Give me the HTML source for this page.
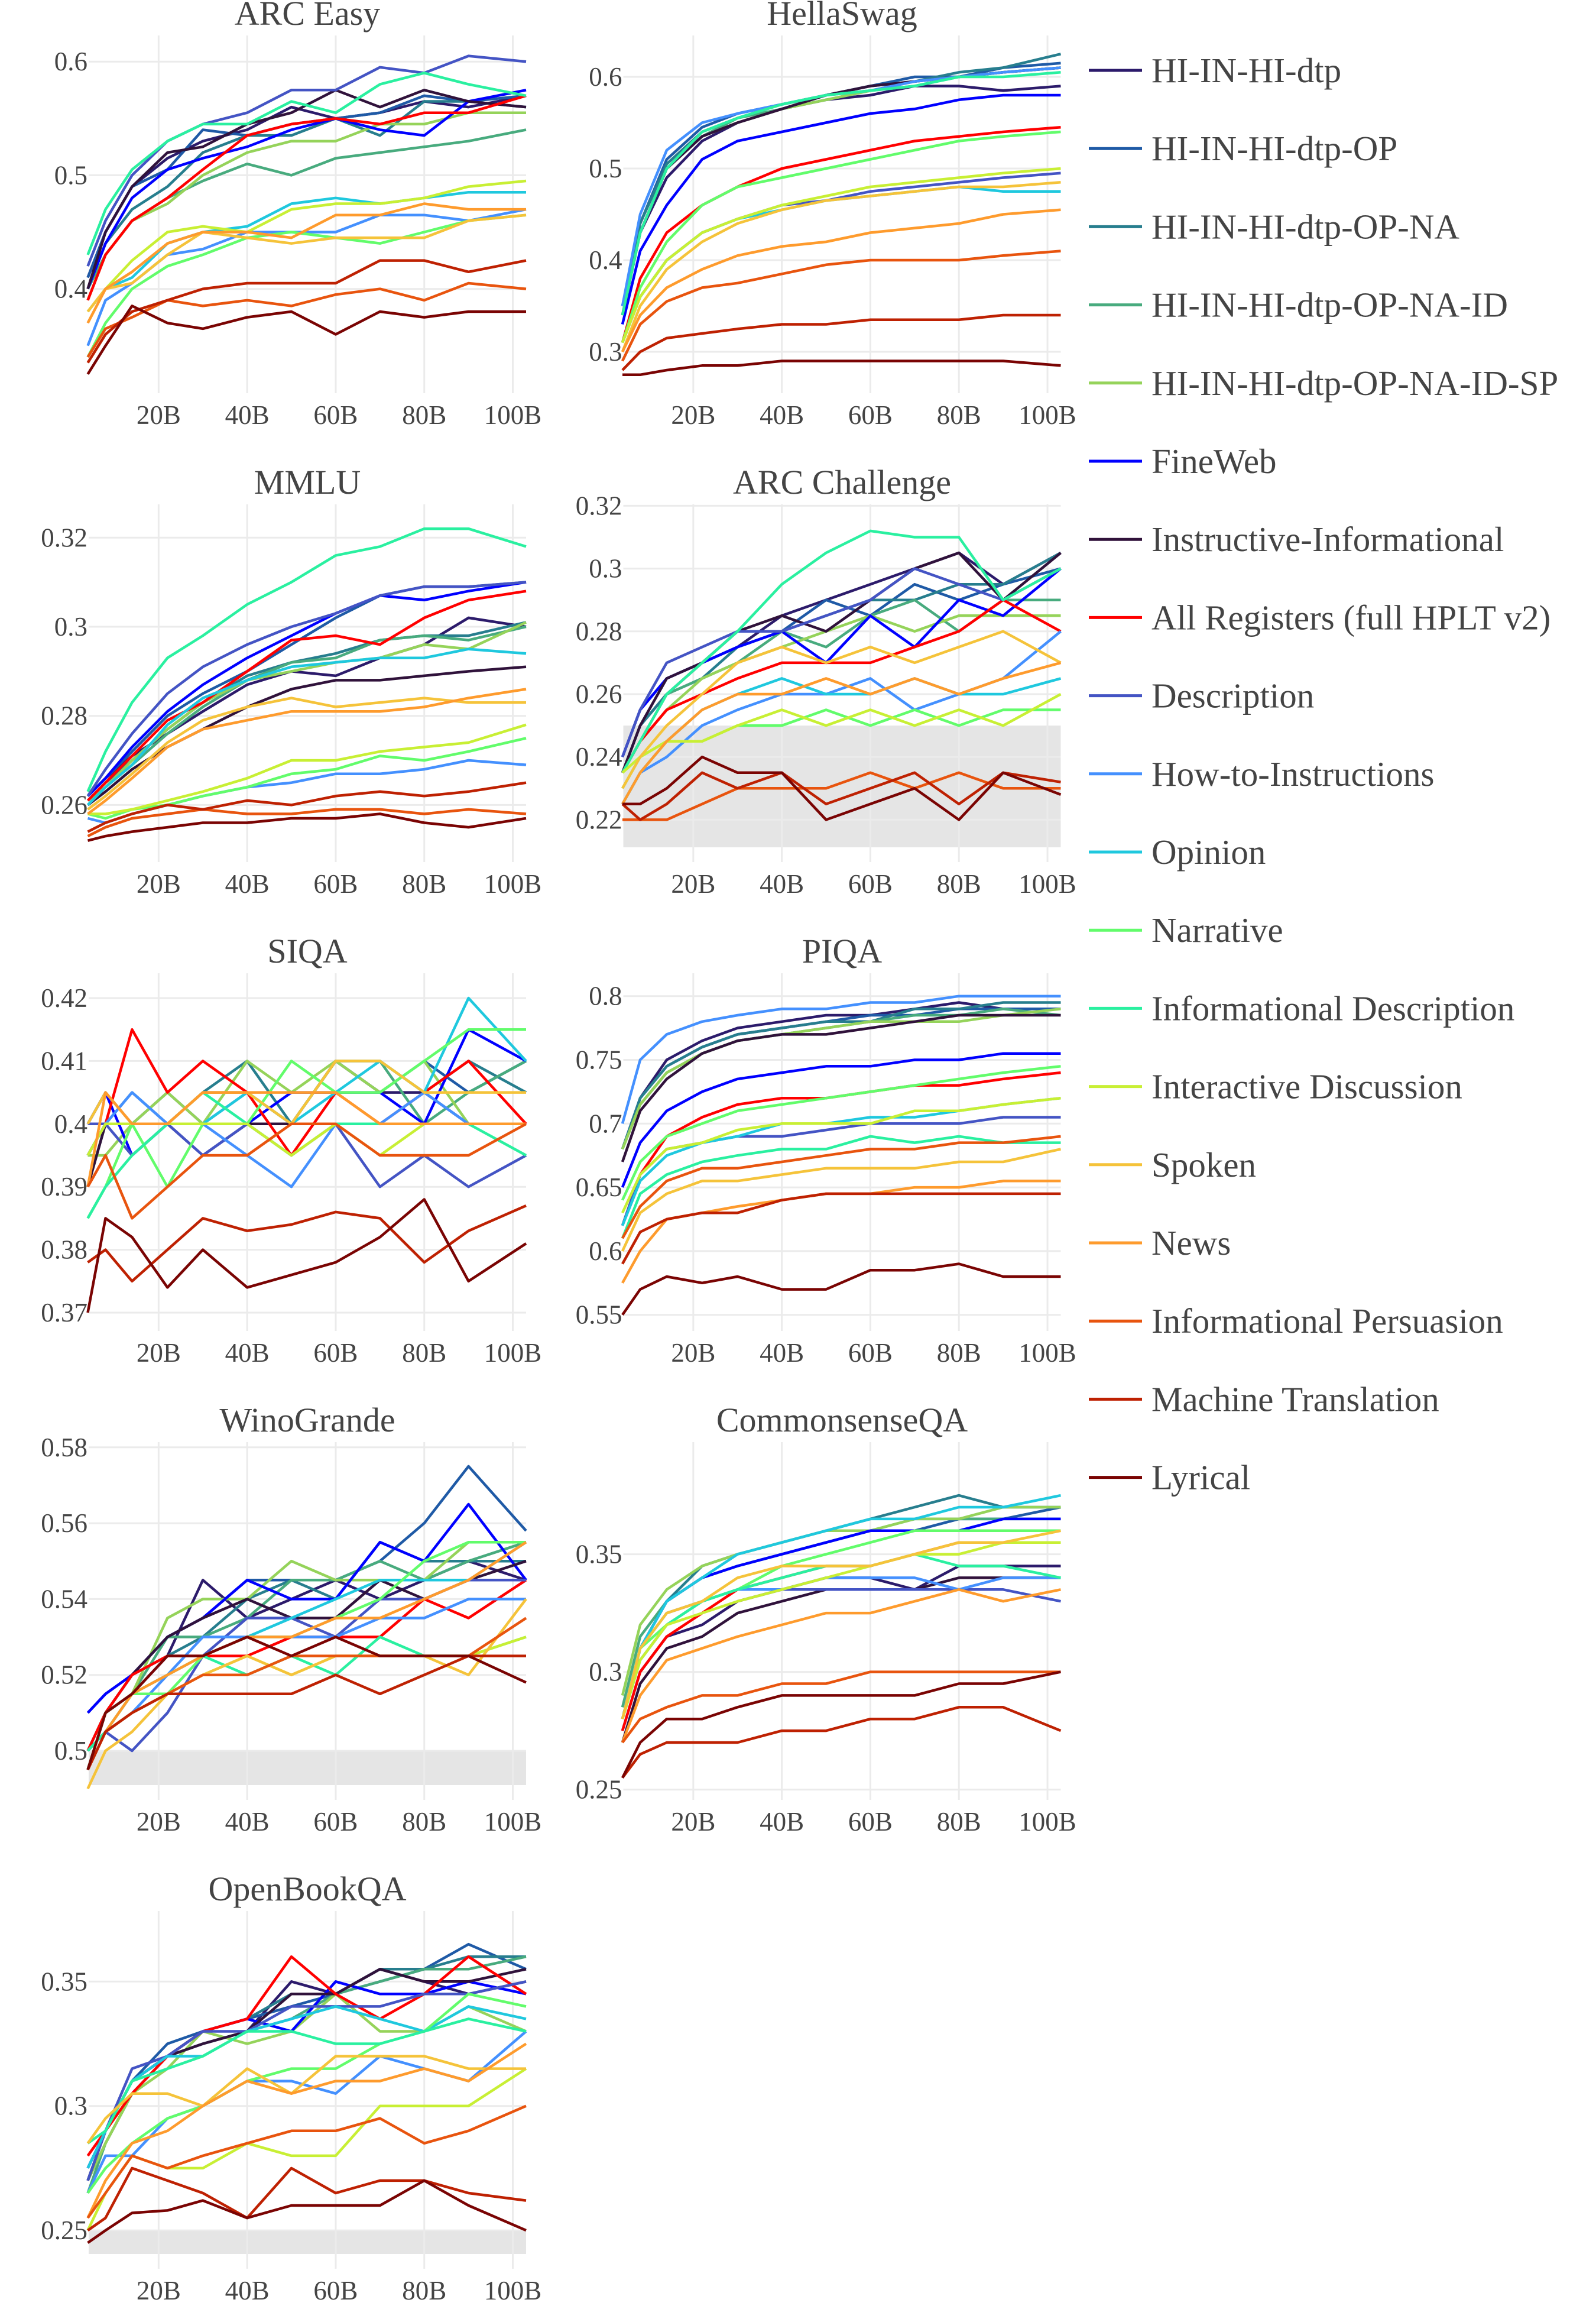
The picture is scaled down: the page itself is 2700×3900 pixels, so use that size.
<!DOCTYPE html>
<html><head><meta charset="utf-8"><style>
html,body{margin:0;padding:0;background:#fff;}
svg{display:block;font-family:"Liberation Serif",serif;}
</style></head><body>
<svg id="chart" width="2700" height="3900" viewBox="0 0 2700 3900" xmlns="http://www.w3.org/2000/svg"></svg>
<script>
const xTokens=[4,8,14,22,30,40,50,60,70,80,90,103];
const xTickLabels=["20B","40B","60B","80B","100B"];
const xTickValues=[20,40,60,80,100];
const seriesNames=["HI-IN-HI-dtp","HI-IN-HI-dtp-OP","HI-IN-HI-dtp-OP-NA","HI-IN-HI-dtp-OP-NA-ID","HI-IN-HI-dtp-OP-NA-ID-SP","FineWeb","Instructive-Informational","All Registers (full HPLT v2)","Description","How-to-Instructions","Opinion","Narrative","Informational Description","Interactive Discussion","Spoken","News","Informational Persuasion","Machine Translation","Lyrical"];
const seriesColors=["#2c1b6b","#1f5aa6","#277e8e","#48ab7e","#95d35a","#0000ff","#30123b","#ff0000","#4454c4","#4490fe","#1fc8de","#62fc6b","#2af0a0","#c8ef34","#f5c33a","#fe9b2d","#e8540e","#be2102","#7a0403"];
const panelTitles=["ARC Easy","HellaSwag","MMLU","ARC Challenge","SIQA","PIQA","WinoGrande","CommonsenseQA","OpenBookQA"];
const yTicksArcEasy=[0.4,0.5,0.6];
const yTicksHella=[0.3,0.4,0.5,0.6];
const yTicksMmlu=[0.26,0.28,0.3,0.32];
const yTicksArcC=[0.22,0.24,0.26,0.28,0.3,0.32];
const yTicksSiqa=[0.37,0.38,0.39,0.4,0.41,0.42];
const yTicksPiqa=[0.55,0.6,0.65,0.7,0.75,0.8];
const yTicksWino=[0.5,0.52,0.54,0.56,0.58];
const yTicksCsqa=[0.25,0.3,0.35];
const yTicksObqa=[0.25,0.3,0.35];
const bandArcC=0.25, bandWino=0.5, bandObqa=0.25;

const arcEasy=[
[0.41,0.45,0.49,0.515,0.53,0.54,0.56,0.55,0.555,0.565,0.56,0.57],
[0.41,0.45,0.49,0.505,0.54,0.535,0.545,0.55,0.555,0.57,0.565,0.57],
[0.40,0.44,0.47,0.49,0.52,0.535,0.535,0.55,0.535,0.565,0.565,0.56],
[0.40,0.43,0.46,0.48,0.495,0.51,0.50,0.515,0.52,0.525,0.53,0.54],
[0.39,0.43,0.46,0.475,0.50,0.52,0.53,0.53,0.545,0.545,0.555,0.555],
[0.40,0.44,0.48,0.505,0.515,0.525,0.54,0.55,0.54,0.535,0.565,0.575],
[0.40,0.45,0.49,0.52,0.525,0.545,0.555,0.575,0.56,0.575,0.565,0.56],
[0.39,0.43,0.46,0.48,0.505,0.535,0.545,0.55,0.545,0.555,0.555,0.57],
[0.42,0.46,0.50,0.53,0.545,0.555,0.575,0.575,0.595,0.59,0.605,0.60],
[0.35,0.39,0.405,0.43,0.435,0.45,0.45,0.45,0.465,0.465,0.46,0.47],
[0.38,0.40,0.41,0.44,0.45,0.455,0.475,0.48,0.475,0.48,0.485,0.485],
[0.34,0.37,0.40,0.42,0.43,0.445,0.45,0.445,0.44,0.45,0.46,0.465],
[0.43,0.47,0.505,0.53,0.545,0.545,0.565,0.555,0.58,0.59,0.58,0.57],
[0.38,0.40,0.425,0.45,0.455,0.45,0.47,0.475,0.475,0.48,0.49,0.495],
[0.38,0.40,0.405,0.43,0.45,0.445,0.44,0.445,0.445,0.445,0.46,0.465],
[0.37,0.40,0.415,0.44,0.45,0.45,0.445,0.465,0.465,0.475,0.47,0.47],
[0.34,0.365,0.375,0.39,0.385,0.39,0.385,0.395,0.40,0.39,0.405,0.40],
[0.335,0.36,0.38,0.39,0.40,0.405,0.405,0.405,0.425,0.425,0.415,0.425],
[0.325,0.35,0.385,0.37,0.365,0.375,0.38,0.36,0.38,0.375,0.38,0.38]];
const hellaSwag=[
[0.34,0.43,0.49,0.53,0.55,0.565,0.575,0.58,0.59,0.59,0.585,0.59],
[0.35,0.44,0.51,0.545,0.56,0.57,0.58,0.59,0.60,0.60,0.61,0.615],
[0.35,0.44,0.505,0.54,0.555,0.57,0.58,0.59,0.595,0.605,0.61,0.625],
[0.34,0.43,0.50,0.535,0.555,0.565,0.575,0.585,0.59,0.60,0.605,0.61],
[0.34,0.43,0.50,0.535,0.55,0.565,0.575,0.585,0.595,0.60,0.605,0.61],
[0.33,0.41,0.46,0.51,0.53,0.54,0.55,0.56,0.565,0.575,0.58,0.58],
[0.34,0.43,0.50,0.535,0.55,0.565,0.58,0.59,0.595,0.60,0.605,0.61],
[0.31,0.38,0.43,0.46,0.48,0.50,0.51,0.52,0.53,0.535,0.54,0.545],
[0.31,0.36,0.40,0.43,0.445,0.46,0.465,0.475,0.48,0.485,0.49,0.495],
[0.35,0.45,0.52,0.55,0.56,0.57,0.58,0.585,0.595,0.60,0.605,0.61],
[0.31,0.36,0.40,0.43,0.445,0.455,0.465,0.47,0.475,0.48,0.475,0.475],
[0.31,0.37,0.42,0.46,0.48,0.49,0.50,0.51,0.52,0.53,0.535,0.54],
[0.34,0.43,0.50,0.54,0.555,0.57,0.58,0.585,0.59,0.60,0.60,0.605],
[0.31,0.36,0.40,0.43,0.445,0.46,0.47,0.48,0.485,0.49,0.495,0.50],
[0.30,0.35,0.39,0.42,0.44,0.455,0.465,0.47,0.475,0.48,0.48,0.485],
[0.30,0.34,0.37,0.39,0.405,0.415,0.42,0.43,0.435,0.44,0.45,0.455],
[0.29,0.33,0.355,0.37,0.375,0.385,0.395,0.40,0.40,0.40,0.405,0.41],
[0.28,0.30,0.315,0.32,0.325,0.33,0.33,0.335,0.335,0.335,0.34,0.34],
[0.275,0.275,0.28,0.285,0.285,0.29,0.29,0.29,0.29,0.29,0.29,0.285]];
const mmlu=[
[0.262,0.266,0.271,0.276,0.281,0.287,0.29,0.289,0.293,0.296,0.302,0.30],
[0.262,0.266,0.272,0.28,0.285,0.29,0.296,0.302,0.307,0.309,0.309,0.31],
[0.261,0.265,0.27,0.277,0.283,0.289,0.292,0.294,0.297,0.298,0.298,0.301],
[0.261,0.264,0.269,0.276,0.282,0.288,0.292,0.293,0.297,0.298,0.297,0.30],
[0.261,0.264,0.27,0.277,0.283,0.288,0.29,0.292,0.293,0.296,0.295,0.301],
[0.262,0.266,0.273,0.281,0.287,0.293,0.298,0.303,0.307,0.306,0.308,0.31],
[0.26,0.263,0.268,0.273,0.277,0.282,0.286,0.288,0.288,0.289,0.29,0.291],
[0.261,0.265,0.271,0.279,0.283,0.29,0.297,0.298,0.296,0.302,0.306,0.308],
[0.262,0.268,0.276,0.285,0.291,0.296,0.300,0.303,0.307,0.309,0.309,0.31],
[0.257,0.256,0.258,0.26,0.262,0.264,0.265,0.267,0.267,0.268,0.27,0.269],
[0.26,0.264,0.269,0.278,0.284,0.288,0.291,0.292,0.293,0.293,0.295,0.294],
[0.258,0.257,0.259,0.26,0.262,0.264,0.267,0.268,0.271,0.27,0.272,0.275],
[0.263,0.272,0.283,0.293,0.298,0.305,0.31,0.316,0.318,0.322,0.322,0.318],
[0.258,0.258,0.259,0.261,0.263,0.266,0.27,0.27,0.272,0.273,0.274,0.278],
[0.259,0.262,0.267,0.274,0.279,0.282,0.284,0.282,0.283,0.284,0.283,0.283],
[0.258,0.261,0.266,0.273,0.277,0.279,0.281,0.281,0.281,0.282,0.284,0.286],
[0.253,0.255,0.257,0.258,0.259,0.258,0.258,0.259,0.259,0.258,0.259,0.258],
[0.254,0.256,0.258,0.26,0.259,0.261,0.26,0.262,0.263,0.262,0.263,0.265],
[0.252,0.253,0.254,0.255,0.256,0.256,0.257,0.257,0.258,0.256,0.255,0.257]];
const arcChallenge=[
[0.235,0.25,0.26,0.27,0.275,0.285,0.29,0.295,0.30,0.305,0.295,0.305],
[0.24,0.255,0.265,0.27,0.275,0.28,0.29,0.285,0.295,0.29,0.295,0.30],
[0.235,0.25,0.26,0.265,0.275,0.28,0.285,0.29,0.29,0.295,0.295,0.305],
[0.235,0.245,0.26,0.265,0.27,0.28,0.275,0.285,0.29,0.28,0.29,0.29],
[0.235,0.245,0.255,0.265,0.27,0.275,0.28,0.285,0.28,0.285,0.285,0.285],
[0.24,0.255,0.265,0.27,0.275,0.28,0.27,0.285,0.275,0.29,0.285,0.30],
[0.235,0.25,0.265,0.27,0.28,0.285,0.28,0.29,0.30,0.305,0.29,0.305],
[0.235,0.245,0.255,0.26,0.265,0.27,0.27,0.27,0.275,0.28,0.29,0.28],
[0.24,0.255,0.27,0.275,0.28,0.28,0.285,0.29,0.30,0.295,0.29,0.30],
[0.225,0.235,0.24,0.25,0.255,0.26,0.26,0.265,0.255,0.26,0.265,0.28],
[0.225,0.235,0.245,0.255,0.26,0.265,0.26,0.26,0.265,0.26,0.26,0.265],
[0.23,0.24,0.245,0.245,0.25,0.25,0.255,0.25,0.255,0.25,0.255,0.255],
[0.235,0.245,0.26,0.27,0.28,0.295,0.305,0.312,0.31,0.31,0.29,0.30],
[0.235,0.24,0.245,0.245,0.25,0.255,0.25,0.255,0.25,0.255,0.25,0.26],
[0.23,0.24,0.25,0.26,0.27,0.275,0.27,0.275,0.27,0.275,0.28,0.27],
[0.225,0.235,0.245,0.255,0.26,0.26,0.265,0.26,0.265,0.26,0.265,0.27],
[0.22,0.22,0.22,0.225,0.23,0.23,0.23,0.235,0.23,0.235,0.23,0.23],
[0.225,0.22,0.225,0.235,0.23,0.235,0.225,0.23,0.235,0.225,0.235,0.232],
[0.225,0.225,0.23,0.24,0.235,0.235,0.22,0.225,0.23,0.22,0.235,0.228]];
const siqa=[
[0.395,0.40,0.40,0.40,0.395,0.40,0.40,0.41,0.405,0.405,0.40,0.40],
[0.40,0.405,0.40,0.405,0.40,0.405,0.40,0.41,0.405,0.41,0.405,0.41],
[0.395,0.40,0.405,0.40,0.405,0.41,0.40,0.41,0.41,0.405,0.41,0.405],
[0.39,0.40,0.40,0.40,0.405,0.405,0.40,0.41,0.41,0.40,0.405,0.41],
[0.395,0.395,0.40,0.405,0.40,0.41,0.405,0.41,0.405,0.41,0.40,0.40],
[0.40,0.405,0.395,0.40,0.40,0.40,0.405,0.405,0.405,0.40,0.415,0.41],
[0.39,0.40,0.40,0.40,0.40,0.40,0.40,0.40,0.40,0.40,0.40,0.40],
[0.395,0.40,0.415,0.405,0.41,0.405,0.395,0.405,0.40,0.405,0.41,0.40],
[0.40,0.40,0.395,0.40,0.395,0.40,0.395,0.40,0.39,0.395,0.39,0.395],
[0.395,0.40,0.405,0.40,0.40,0.395,0.39,0.40,0.40,0.405,0.40,0.40],
[0.395,0.40,0.40,0.40,0.40,0.405,0.40,0.405,0.41,0.405,0.42,0.41],
[0.385,0.39,0.40,0.39,0.40,0.40,0.41,0.405,0.405,0.41,0.415,0.415],
[0.385,0.39,0.395,0.40,0.405,0.40,0.395,0.40,0.40,0.40,0.40,0.395],
[0.395,0.40,0.40,0.40,0.40,0.40,0.395,0.40,0.395,0.40,0.40,0.40],
[0.40,0.405,0.40,0.40,0.405,0.405,0.40,0.41,0.41,0.405,0.405,0.405],
[0.39,0.405,0.40,0.40,0.405,0.405,0.405,0.405,0.40,0.40,0.40,0.40],
[0.39,0.395,0.385,0.39,0.395,0.395,0.40,0.40,0.395,0.395,0.395,0.40],
[0.378,0.38,0.375,0.38,0.385,0.383,0.384,0.386,0.385,0.378,0.383,0.387],
[0.37,0.385,0.382,0.374,0.38,0.374,0.376,0.378,0.382,0.388,0.375,0.381]];
const piqa=[
[0.68,0.72,0.75,0.765,0.775,0.78,0.785,0.785,0.79,0.795,0.79,0.79],
[0.68,0.72,0.745,0.76,0.77,0.775,0.78,0.785,0.785,0.79,0.79,0.79],
[0.68,0.72,0.745,0.76,0.77,0.775,0.78,0.78,0.79,0.79,0.795,0.795],
[0.68,0.715,0.74,0.755,0.765,0.77,0.775,0.78,0.785,0.785,0.79,0.785],
[0.68,0.715,0.74,0.755,0.765,0.77,0.775,0.78,0.78,0.78,0.785,0.79],
[0.65,0.685,0.71,0.725,0.735,0.74,0.745,0.745,0.75,0.75,0.755,0.755],
[0.67,0.71,0.735,0.755,0.765,0.77,0.77,0.775,0.78,0.785,0.785,0.785],
[0.62,0.66,0.69,0.705,0.715,0.72,0.72,0.725,0.73,0.73,0.735,0.74],
[0.62,0.66,0.68,0.685,0.69,0.69,0.695,0.70,0.70,0.70,0.705,0.705],
[0.70,0.75,0.77,0.78,0.785,0.79,0.79,0.795,0.795,0.80,0.80,0.80],
[0.62,0.655,0.675,0.685,0.69,0.70,0.70,0.705,0.705,0.71,0.715,0.72],
[0.64,0.67,0.69,0.70,0.71,0.715,0.72,0.725,0.73,0.735,0.74,0.745],
[0.61,0.645,0.66,0.67,0.675,0.68,0.68,0.69,0.685,0.69,0.685,0.685],
[0.63,0.66,0.68,0.685,0.695,0.70,0.70,0.70,0.71,0.71,0.715,0.72],
[0.60,0.63,0.645,0.655,0.655,0.66,0.665,0.665,0.665,0.67,0.67,0.68],
[0.575,0.60,0.625,0.63,0.635,0.64,0.645,0.645,0.65,0.65,0.655,0.655],
[0.61,0.635,0.655,0.665,0.665,0.67,0.675,0.68,0.68,0.685,0.685,0.69],
[0.59,0.615,0.625,0.63,0.63,0.64,0.645,0.645,0.645,0.645,0.645,0.645],
[0.55,0.57,0.58,0.575,0.58,0.57,0.57,0.585,0.585,0.59,0.58,0.58]];
const winoGrande=[
[0.495,0.51,0.515,0.525,0.545,0.535,0.54,0.545,0.54,0.545,0.55,0.545],
[0.51,0.515,0.52,0.53,0.535,0.545,0.545,0.545,0.55,0.56,0.575,0.558],
[0.50,0.51,0.52,0.525,0.53,0.54,0.545,0.54,0.555,0.55,0.55,0.55],
[0.50,0.51,0.515,0.53,0.53,0.535,0.545,0.545,0.55,0.545,0.55,0.555],
[0.50,0.505,0.515,0.535,0.54,0.54,0.55,0.545,0.545,0.545,0.555,0.555],
[0.51,0.515,0.52,0.53,0.535,0.545,0.54,0.54,0.555,0.55,0.565,0.545],
[0.495,0.51,0.52,0.53,0.535,0.54,0.535,0.535,0.545,0.54,0.545,0.55],
[0.50,0.51,0.52,0.525,0.525,0.525,0.53,0.53,0.53,0.54,0.535,0.545],
[0.50,0.505,0.50,0.51,0.525,0.535,0.535,0.53,0.54,0.54,0.545,0.545],
[0.50,0.505,0.51,0.52,0.53,0.53,0.53,0.53,0.535,0.535,0.54,0.54],
[0.50,0.505,0.515,0.52,0.525,0.53,0.535,0.54,0.545,0.545,0.545,0.555],
[0.495,0.51,0.515,0.515,0.525,0.53,0.53,0.535,0.54,0.55,0.555,0.555],
[0.50,0.505,0.515,0.52,0.525,0.52,0.525,0.52,0.53,0.525,0.525,0.53],
[0.495,0.505,0.51,0.515,0.52,0.525,0.52,0.525,0.525,0.525,0.525,0.53],
[0.49,0.50,0.505,0.515,0.52,0.525,0.52,0.525,0.525,0.525,0.52,0.54],
[0.495,0.505,0.515,0.52,0.525,0.53,0.53,0.535,0.535,0.54,0.545,0.555],
[0.495,0.505,0.51,0.515,0.52,0.52,0.525,0.525,0.525,0.525,0.525,0.535],
[0.495,0.505,0.51,0.515,0.515,0.515,0.515,0.52,0.515,0.52,0.525,0.525],
[0.495,0.51,0.515,0.525,0.525,0.53,0.525,0.53,0.525,0.525,0.525,0.518]];
const commonsenseQA=[
[0.275,0.30,0.315,0.32,0.33,0.335,0.34,0.34,0.335,0.345,0.345,0.345],
[0.28,0.31,0.33,0.34,0.345,0.35,0.355,0.36,0.36,0.365,0.365,0.37],
[0.28,0.31,0.33,0.345,0.35,0.355,0.36,0.365,0.37,0.375,0.37,0.37],
[0.285,0.315,0.33,0.34,0.345,0.35,0.355,0.36,0.365,0.365,0.365,0.365],
[0.29,0.32,0.335,0.345,0.35,0.355,0.36,0.36,0.365,0.365,0.37,0.37],
[0.28,0.31,0.33,0.34,0.345,0.35,0.355,0.36,0.36,0.36,0.365,0.365],
[0.27,0.295,0.31,0.315,0.325,0.33,0.335,0.335,0.335,0.34,0.34,0.34],
[0.275,0.30,0.315,0.325,0.335,0.34,0.345,0.345,0.35,0.355,0.355,0.355],
[0.28,0.31,0.325,0.33,0.335,0.335,0.335,0.335,0.335,0.335,0.335,0.33],
[0.28,0.305,0.32,0.33,0.335,0.335,0.34,0.34,0.34,0.335,0.34,0.34],
[0.28,0.31,0.33,0.34,0.35,0.355,0.36,0.365,0.365,0.37,0.37,0.375],
[0.28,0.31,0.32,0.33,0.335,0.345,0.35,0.355,0.36,0.36,0.36,0.36],
[0.28,0.305,0.32,0.33,0.335,0.34,0.345,0.345,0.35,0.345,0.345,0.34],
[0.28,0.305,0.32,0.325,0.33,0.335,0.34,0.345,0.35,0.35,0.355,0.355],
[0.28,0.31,0.325,0.33,0.34,0.345,0.345,0.345,0.35,0.355,0.355,0.36],
[0.27,0.29,0.305,0.31,0.315,0.32,0.325,0.325,0.33,0.335,0.33,0.335],
[0.27,0.28,0.285,0.29,0.29,0.295,0.295,0.30,0.30,0.30,0.30,0.30],
[0.255,0.265,0.27,0.27,0.27,0.275,0.275,0.28,0.28,0.285,0.285,0.275],
[0.255,0.27,0.28,0.28,0.285,0.29,0.29,0.29,0.29,0.295,0.295,0.30]];
const openBookQA=[
[0.27,0.29,0.31,0.32,0.325,0.33,0.35,0.345,0.355,0.35,0.345,0.35],
[0.275,0.29,0.31,0.325,0.33,0.335,0.34,0.345,0.35,0.355,0.365,0.355],
[0.27,0.285,0.305,0.32,0.33,0.335,0.345,0.345,0.355,0.355,0.36,0.36],
[0.265,0.285,0.305,0.32,0.325,0.33,0.335,0.345,0.35,0.355,0.355,0.36],
[0.27,0.285,0.305,0.315,0.33,0.325,0.33,0.345,0.33,0.33,0.34,0.33],
[0.275,0.29,0.31,0.32,0.33,0.335,0.33,0.35,0.345,0.345,0.35,0.345],
[0.27,0.29,0.31,0.32,0.325,0.33,0.345,0.345,0.355,0.35,0.35,0.355],
[0.28,0.29,0.305,0.32,0.33,0.335,0.36,0.345,0.335,0.345,0.36,0.345],
[0.27,0.29,0.315,0.32,0.33,0.33,0.34,0.34,0.34,0.345,0.345,0.35],
[0.265,0.28,0.28,0.295,0.30,0.31,0.31,0.305,0.32,0.315,0.31,0.33],
[0.275,0.29,0.31,0.32,0.32,0.33,0.335,0.34,0.335,0.33,0.34,0.335],
[0.265,0.275,0.285,0.295,0.30,0.31,0.315,0.315,0.325,0.33,0.345,0.34],
[0.285,0.29,0.31,0.315,0.32,0.33,0.33,0.325,0.325,0.33,0.335,0.33],
[0.25,0.265,0.28,0.275,0.275,0.285,0.28,0.28,0.30,0.30,0.30,0.315],
[0.285,0.295,0.305,0.305,0.30,0.315,0.305,0.32,0.32,0.32,0.315,0.315],
[0.255,0.27,0.285,0.29,0.30,0.31,0.305,0.31,0.31,0.315,0.31,0.325],
[0.255,0.265,0.28,0.275,0.28,0.285,0.29,0.29,0.295,0.285,0.29,0.30],
[0.25,0.255,0.275,0.27,0.265,0.255,0.275,0.265,0.27,0.27,0.265,0.262],
[0.245,0.25,0.257,0.258,0.262,0.255,0.26,0.26,0.26,0.27,0.26,0.25]];

const NS="http://www.w3.org/2000/svg";
const svg=document.getElementById('chart');
function mk(tag,attrs,parent){const e=document.createElementNS(NS,tag);for(const k in attrs)e.setAttribute(k,attrs[k]);(parent||svg).appendChild(e);return e;}

const panels=[
[0,0,0.5,296.4,1922,yTicksArcEasy,arcEasy,null],
[1,0,0.5,285,1550,yTicksHella,hellaSwag,null],
[0,1,0.3,267,7535,yTicksMmlu,mmlu,null],
[1,1,0.3,168.6,5310,yTicksArcC,arcChallenge,bandArcC],
[0,2,0.4,314.8,10640,yTicksSiqa,siqa,null],
[1,2,0.7,314.3,2156,yTicksPiqa,piqa,null],
[0,3,0.5,582,6415,yTicksWino,winoGrande,bandWino],
[1,3,0.3,448.6,3980,yTicksCsqa,commonsenseQA,null],
[0,4,0.3,389.7,4208,yTicksObqa,openBookQA,bandObqa]];
const colX=[150,1054.5], plotW=740, rowPitch=793;
const slug=s=>s.toLowerCase().replace(/[^a-z0-9]+/g,'-').replace(/^-|-$/g,'');

panels.forEach((p,pi)=>{
  const [col,row,rv,rp,ppu,ticks,data,band]=p;
  const x0=colX[col], oy=row*rowPitch;
  const g=mk('g',{});
  
  
  const xs=b=>x0+(b-4.2)*7.49;
  const ys=v=>oy+rp-(v-rv)*ppu;
  if(band!==null){
    const r=mk('rect',{x:x0,y:ys(band),width:plotW,height:oy+640-ys(band),fill:'#e5e5e5'},g);
    
    
  }
  xTickValues.forEach((t,i)=>{
    const l=mk('line',{x1:xs(t),x2:xs(t),y1:oy+60,y2:oy+665,stroke:'#ebebeb','stroke-width':3},g);
    
    
    const tx=mk('text',{x:xs(t),y:oy+717,'text-anchor':'middle','font-size':45,fill:'#444'},g);
    tx.textContent=xTickLabels[i];
    
    
  });
  ticks.forEach(t=>{
    const l=mk('line',{x1:x0,x2:x0+plotW,y1:ys(t),y2:ys(t),stroke:'#ebebeb','stroke-width':3},g);
    
    
    const tx=mk('text',{x:x0-2,y:ys(t)+15,'text-anchor':'end','font-size':45,fill:'#444'},g);
    tx.textContent=String(t);
    
    
  });
  const tt=mk('text',{x:x0+plotW/2,y:oy+42,'text-anchor':'middle','font-size':58,fill:'#444'},g);
  tt.textContent=panelTitles[pi];
  
  
  data.forEach((ser,si)=>{
    const pts=ser.map((v,i)=>xs(xTokens[i]).toFixed(1)+','+ys(v).toFixed(1)).join(' ');
    const pl=mk('polyline',{points:pts,fill:'none',stroke:seriesColors[si],'stroke-width':4.5,'stroke-linejoin':'round'},g);
    
    
  });
});

const lg=mk('g',{});


seriesNames.forEach((n,i)=>{
  const y=119+i*132.2;
  const e=mk('g',{},lg);
  
  
  mk('line',{x1:1842,x2:1932,y1:y,y2:y,stroke:seriesColors[i],'stroke-width':5},e);
  const t=mk('text',{x:1948,y:y+20,'font-size':59,fill:'#444'},e);
  t.textContent=n;
});
</script>
</body></html>
